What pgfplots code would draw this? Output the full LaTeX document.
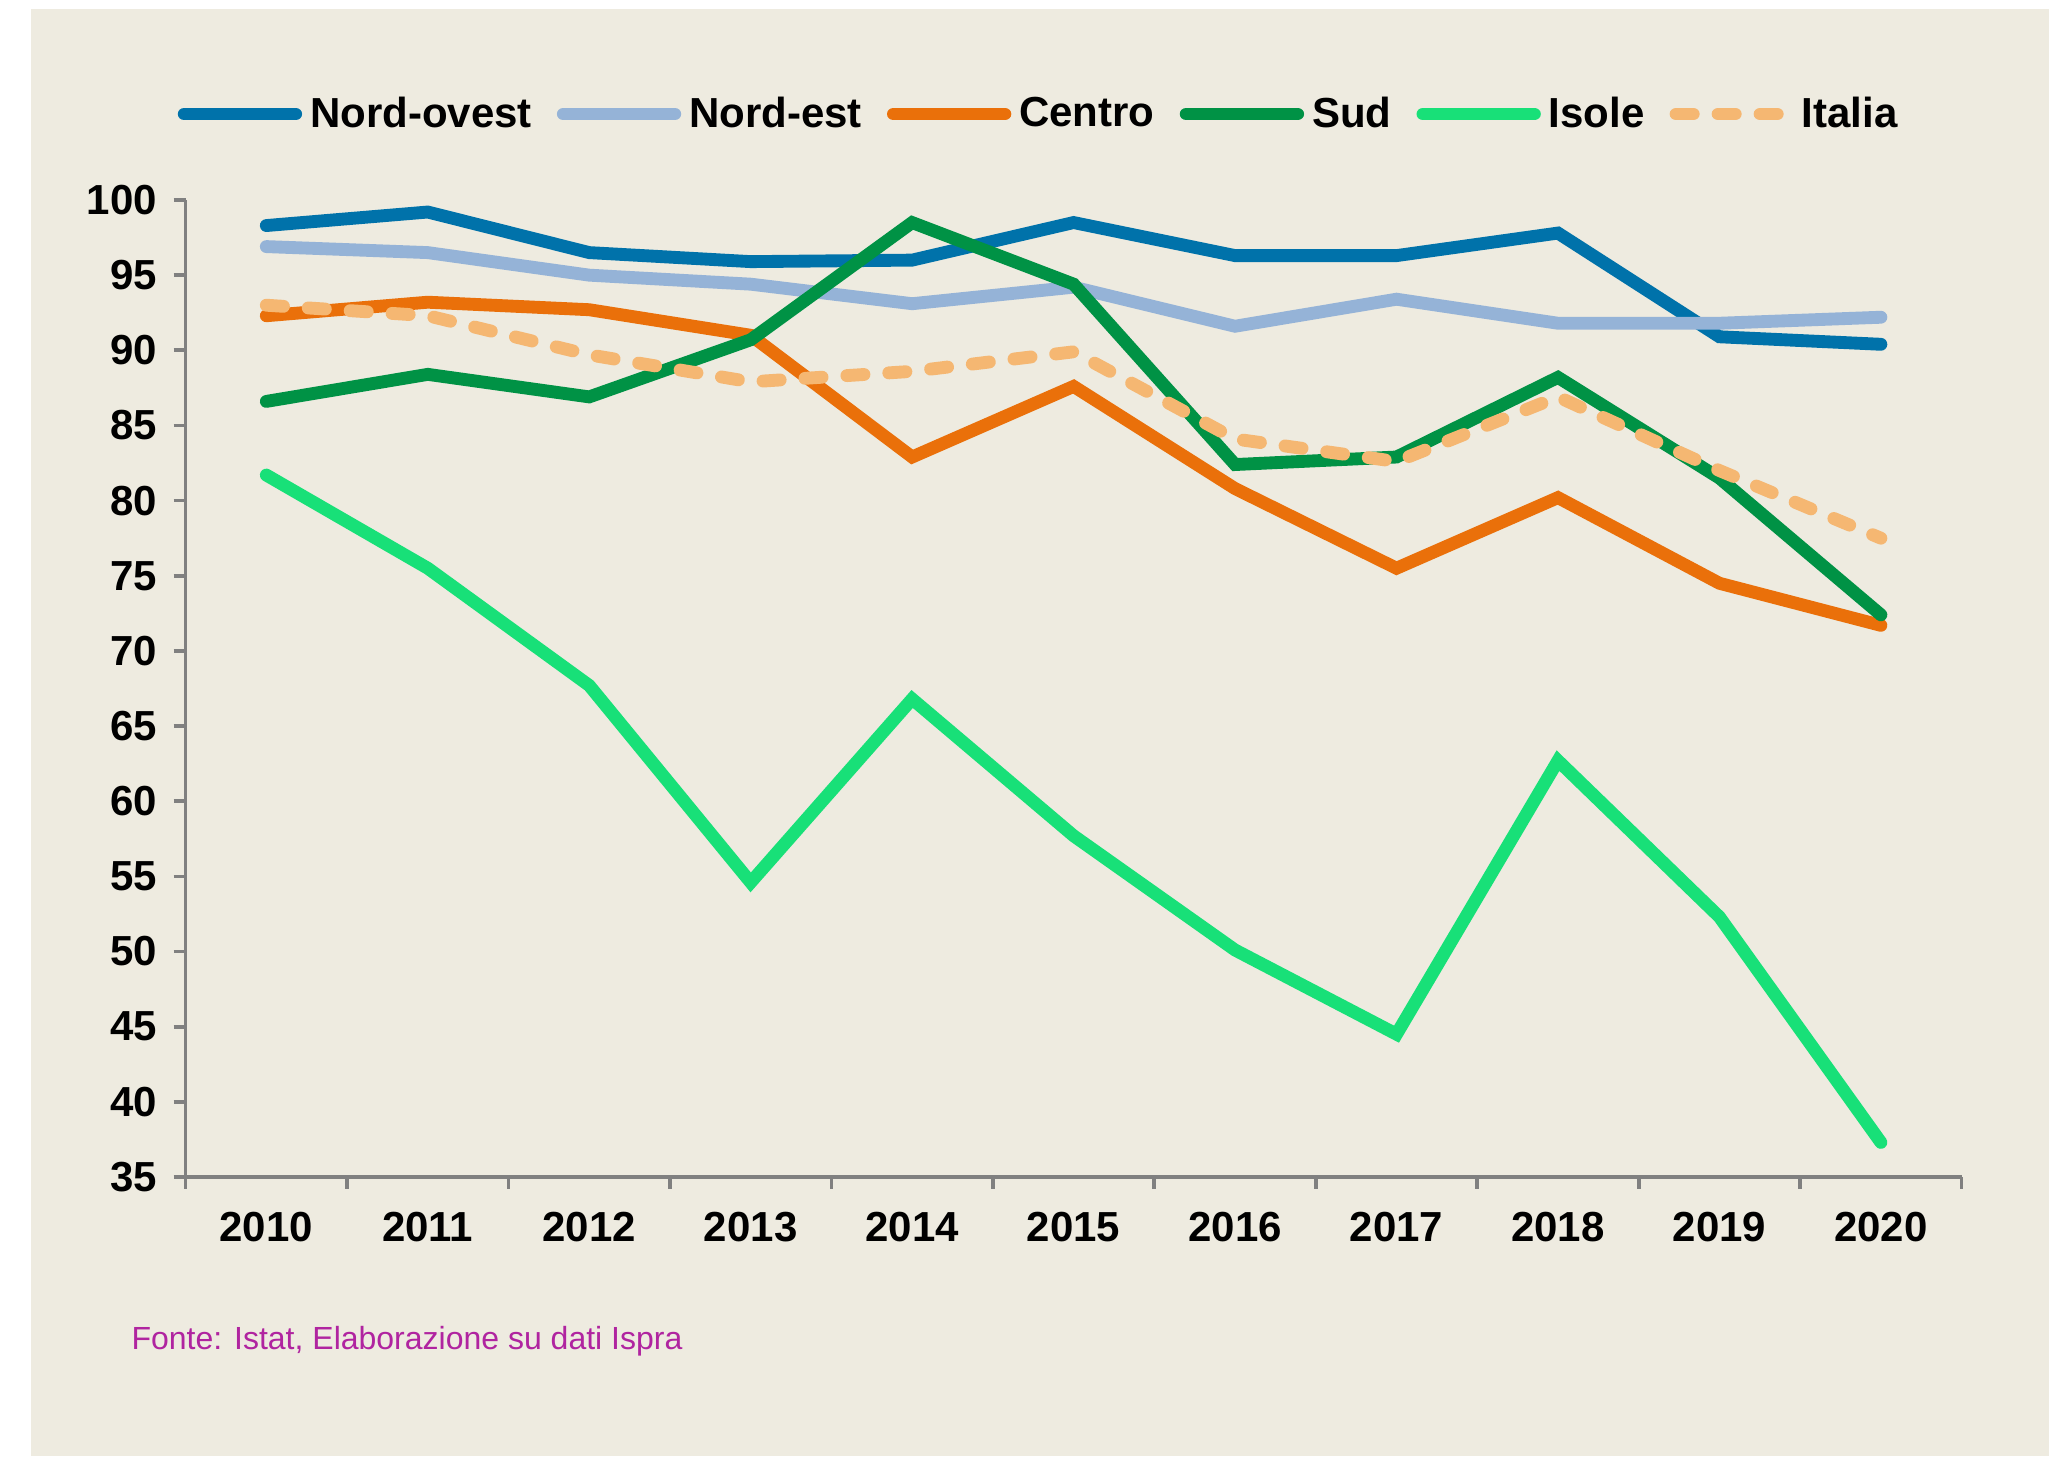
\documentclass[border=0pt]{standalone}
\usepackage{fontspec}
\setmainfont{Liberation Sans}
\usepackage{pgfplots}
\pgfplotsset{compat=1.18}
\definecolor{bg}{RGB}{238,235,224}
\definecolor{axisgray}{RGB}{128,128,128}
\definecolor{nordovest}{RGB}{0,114,170}
\definecolor{nordest}{RGB}{149,179,215}
\definecolor{centro}{RGB}{234,112,10}
\definecolor{sud}{RGB}{0,146,69}
\definecolor{isole}{RGB}{24,224,120}
\definecolor{italia}{RGB}{245,183,114}
\definecolor{fonte}{RGB}{176,36,160}
\tikzset{ln/.style={line width=4.5pt, line cap=round, line join=miter}}
\begin{document}
\begin{tikzpicture}
\fill[white] (0,0) rectangle (717.15pt,510.3pt);
\fill[bg] (10.85pt,0.7pt) rectangle (717.15pt,507.15pt);
\begin{axis}[
  at={(64.96pt,98.35pt)}, anchor=south west,
  scale only axis, width=621.6pt, height=341.95pt,
  xmin=-0.5, xmax=10.5, ymin=35, ymax=100,
  axis x line*=bottom, axis y line*=left,
  axis line style={draw=axisgray, line width=1.3pt},
  xtick={-0.5,0.5,...,10.5}, x tick label as interval,
  xticklabels={2010,2011,2012,2013,2014,2015,2016,2017,2018,2019,2020},
  ytick={35,40,...,100},
  tick align=outside, major tick length=4.2pt,
  tick style={draw=axisgray, line width=1.3pt},
  tick label style={font=\fontsize{14.7}{17}\selectfont\bfseries},
  xticklabel style={yshift=-4.6pt},
  yticklabel style={xshift=-2.3pt},
  /pgf/number format/assume math mode=true,
  legend columns=6,
  legend style={at={(-0.0044,1.088)}, anchor=west, draw=none, fill=none,
    inner sep=0pt, outer sep=0pt,
    font=\fontsize{14.7}{17}\selectfont\bfseries,
    nodes={inner sep=0pt},
    /tikz/every odd column/.append style={column sep=2.8pt},
    /tikz/every even column/.append style={column sep=8.8pt}},
  legend cell align=left,
  legend image code/.code={\draw[#1, ln] (0pt,0pt) -- (39pt,0pt);},
]
\addplot[nordovest, ln] coordinates {(0,98.3) (1,99.2) (2,96.5) (3,95.9) (4,96.0) (5,98.5) (6,96.3) (7,96.3) (8,97.8) (9,90.9) (10,90.4)};
\addlegendentry{Nord-ovest}
\addplot[nordest, ln] coordinates {(0,96.9) (1,96.5) (2,95.0) (3,94.4) (4,93.1) (5,94.2) (6,91.6) (7,93.4) (8,91.8) (9,91.8) (10,92.2)};
\addlegendentry{Nord-est}
\addplot[centro, ln] coordinates {(0,92.3) (1,93.2) (2,92.7) (3,91.0) (4,82.9) (5,87.6) (6,80.8) (7,75.5) (8,80.2) (9,74.5) (10,71.7)};
\addlegendentry{Centro}
\addplot[sud, ln] coordinates {(0,86.6) (1,88.4) (2,86.9) (3,90.7) (4,98.5) (5,94.4) (6,82.4) (7,82.9) (8,88.2) (9,81.5) (10,72.4)};
\addlegendentry{Sud}
\addplot[isole, ln] coordinates {(0,81.7) (1,75.5) (2,67.7) (3,54.6) (4,66.8) (5,57.7) (6,50.1) (7,44.5) (8,62.7) (9,52.3) (10,37.3)};
\addlegendentry{Isole}
\addplot[italia, ln, dash pattern=on 6pt off 8.7pt] coordinates {(0,93.0) (1,92.3) (2,89.7) (3,87.9) (4,88.6) (5,89.9) (6,84.1) (7,82.6) (8,86.9) (9,82.0) (10,77.5)};
\addlegendentry{Italia}
\end{axis}
\node[anchor=base west, inner sep=0pt, text=fonte, font=\fontsize{11.2}{13}\selectfont] at (45.85pt,37.8pt) {Fonte: Istat, Elaborazione su dati Ispra};
\end{tikzpicture}
\end{document}
